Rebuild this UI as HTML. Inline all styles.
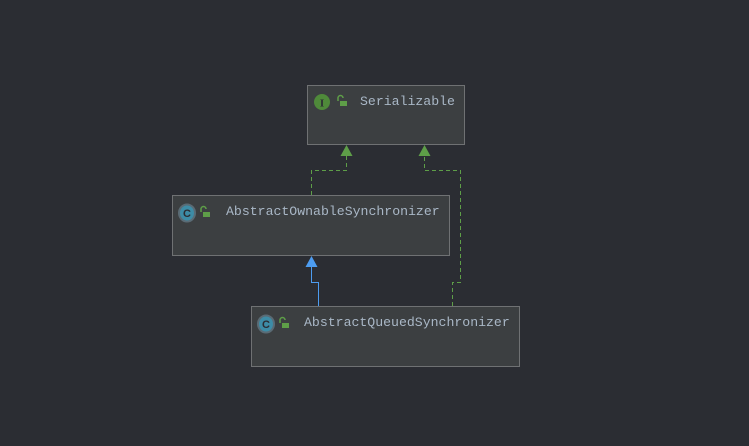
<!DOCTYPE html>
<html><head><style>
body{margin:0;background:#2b2d33;width:749px;height:446px;overflow:hidden;position:relative;font-family:"Liberation Mono",monospace;}
.box{position:absolute;background:#3c3f41;border:1px solid #6f7173;box-sizing:border-box;}
.t{position:absolute;top:8px;font-size:13.2px;color:#a9b7c6;white-space:nowrap;}
</style></head><body>
<svg width="749" height="446" style="position:absolute;left:0;top:0">
<g fill="none" stroke="#5e9e48" stroke-width="1" stroke-dasharray="4,3">
<polyline points="311.5,195 311.5,170.5 346.5,170.5 346.5,156"/>
<polyline points="452.5,306 452.5,282.5 460.5,282.5 460.5,170.5 424.5,170.5 424.5,156"/>
</g>
<polygon points="346.5,145 340.5,156 352.5,156" fill="#5e9e48"/>
<polygon points="424.5,145 418.5,156 430.5,156" fill="#5e9e48"/>
<polyline points="318.5,306 318.5,282.5 311.5,282.5 311.5,267" fill="none" stroke="#4d9cf0" stroke-width="1"/>
<polygon points="311.5,256 305.5,267 317.5,267" fill="#4d9cf0"/>
</svg>
<div class="box" style="left:307px;top:85px;width:158px;height:60px">
<svg width="60" height="30" style="position:absolute;left:0;top:0">
<circle cx="14" cy="16" r="8" fill="#4f8a3a"/><text x="14" y="20.5" font-size="11" font-family="Liberation Serif" font-weight="bold" fill="#2b2d33" text-anchor="middle">I</text>
<path d="M30 15 v-3 a2.5 2.5 0 0 1 5 0" fill="none" stroke="#5e9e48" stroke-width="1.5"/><rect x="32" y="15" width="7" height="5" fill="#5e9e48"/>
</svg>
<span class="t" style="left:52px">Serializable</span></div>
<div class="box" style="left:172px;top:195px;width:278px;height:61px">
<svg width="60" height="30" style="position:absolute;left:0;top:0">
<ellipse cx="14" cy="17" rx="8" ry="8.5" fill="#3d8ca6" stroke="#5a6b75" stroke-width="2"/><text x="14" y="21" font-size="11" font-family="Liberation Sans" font-weight="bold" fill="#2b2d33" text-anchor="middle">C</text>
<path d="M28 16 v-3 a2.5 2.5 0 0 1 5 0" fill="none" stroke="#5e9e48" stroke-width="1.5"/><rect x="30" y="16" width="7" height="5" fill="#5e9e48"/>
</svg>
<span class="t" style="left:53px">AbstractOwnableSynchronizer</span></div>
<div class="box" style="left:251px;top:306px;width:269px;height:61px">
<svg width="60" height="30" style="position:absolute;left:0;top:0">
<ellipse cx="14" cy="17" rx="8" ry="8.5" fill="#3d8ca6" stroke="#5a6b75" stroke-width="2"/><text x="14" y="21" font-size="11" font-family="Liberation Sans" font-weight="bold" fill="#2b2d33" text-anchor="middle">C</text>
<path d="M28 16 v-3 a2.5 2.5 0 0 1 5 0" fill="none" stroke="#5e9e48" stroke-width="1.5"/><rect x="30" y="16" width="7" height="5" fill="#5e9e48"/>
</svg>
<span class="t" style="left:52px">AbstractQueuedSynchronizer</span></div>
</body></html>
